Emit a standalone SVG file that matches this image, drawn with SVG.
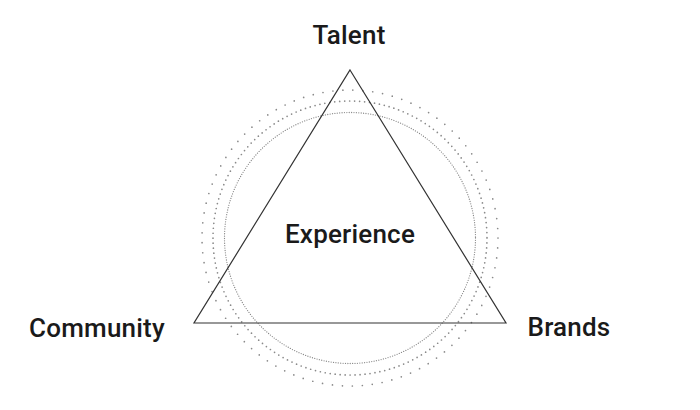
<svg xmlns="http://www.w3.org/2000/svg" width="700" height="410" viewBox="0 0 700 410">
<style>
.lbl{font-family:Roboto,"Liberation Sans",Arial,sans-serif;font-weight:500;font-size:26px;letter-spacing:0.2px;fill:#1a1a1a}
.ring{fill:none;stroke:#8a8a8a;stroke-linecap:round}
</style>
<rect width="700" height="410" fill="#fff"/>
<g id="rings">
<circle class="ring" cx="350" cy="238" r="125.5" stroke-width="1.3" stroke-dasharray="0 2.4"/>
<circle class="ring" cx="350" cy="238" r="137" stroke-width="1.7" stroke-dasharray="0 5"/>
<circle class="ring" cx="350" cy="238" r="148" stroke-width="1.7" stroke-dasharray="0 10"/>
</g>
<g id="connectors">
<polygon points="350,70 506,323 194,323" fill="none" stroke="#333" stroke-width="1.2" stroke-linejoin="miter"/>
</g>
<g id="talent"><text class="lbl" x="349" y="44" text-anchor="middle">Talent</text></g>
<g id="experience"><text class="lbl" x="350" y="243" text-anchor="middle">Experience</text></g>
<g id="community"><text class="lbl" x="97" y="337" text-anchor="middle">Community</text></g>
<g id="brands"><text class="lbl" x="569" y="336" text-anchor="middle">Brands</text></g>
</svg>
